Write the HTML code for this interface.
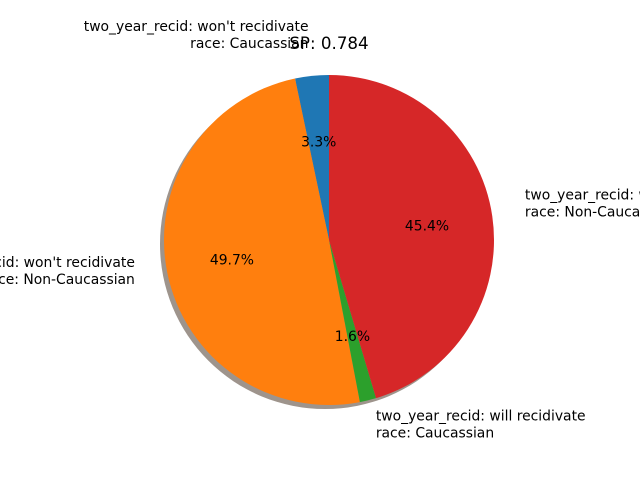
<!DOCTYPE html>
<html><head><meta charset="utf-8"><style>
html,body{margin:0;padding:0;background:#fff;}
svg{display:block;font-family:"DejaVu Sans","Liberation Sans",sans-serif;}
</style></head><body>
<svg id="chart" width="640" height="480" viewBox="0 0 640 480">
<text x="329" y="49" font-size="16.7" text-anchor="middle" fill="#000">SP: 0.784</text>
<g id="shadow"></g><g id="slices"></g><g id="labels"></g>
</svg>
<script>
const categories = ["two_year_recid: won't recidivate\nrace: Caucassian","two_year_recid: won't recidivate\nrace: Non-Caucassian","two_year_recid: will recidivate\nrace: Caucassian","two_year_recid: will recidivate\nrace: Non-Caucassian"];
const values = [3.3, 49.7, 1.6, 45.4];
const colors = ["#1f77b4","#ff7f0e","#2ca02c","#d62728"];
const NS="http://www.w3.org/2000/svg";
const cx=329, cy=240, R=165;
const total=values.reduce((a,b)=>a+b,0);
function pt(a,r){return [cx+r*Math.cos(a*Math.PI/180), cy-r*Math.sin(a*Math.PI/180)];}
const sh=document.createElementNS(NS,"circle");
sh.setAttribute("cx",cx-4);sh.setAttribute("cy",cy+4);sh.setAttribute("r",R);sh.setAttribute("fill","#9e948c");


document.getElementById("shadow").appendChild(sh);
let start=90;
values.forEach((v,i)=>{
  const sweep=v/total*360, end=start+sweep, mid=start+sweep/2;
  const [x1,y1]=pt(start,R),[x2,y2]=pt(end,R);
  const p=document.createElementNS(NS,"path");
  p.setAttribute("d",`M${cx},${cy} L${x1},${y1} A${R},${R} 0 ${sweep>180?1:0} 0 ${x2},${y2} Z`);
  p.setAttribute("fill",colors[i]);
  
  
  document.getElementById("slices").appendChild(p);
  const [px,py]=pt(mid,R*0.6);
  const t=document.createElementNS(NS,"text");
  t.setAttribute("x",px);t.setAttribute("y",py+5);t.setAttribute("font-size","13.9");t.setAttribute("text-anchor","middle");
  t.textContent=v.toFixed(1)+"%";
  
  
  document.getElementById("labels").appendChild(t);
  const [lx,ly]=pt(mid,R*1.2);
  const c=Math.cos(mid*Math.PI/180);
  const anchor=c<-0.01?"end":(c>0.01?"start":"middle");
  const lt=document.createElementNS(NS,"text");
  lt.setAttribute("font-size","13.9");lt.setAttribute("text-anchor",anchor);
  const lines=categories[i].split("\n");
  lines.forEach((ln,k)=>{
    const ts=document.createElementNS(NS,"tspan");
    ts.setAttribute("x",lx);ts.setAttribute("y",ly-17+k*17+5);ts.textContent=ln;
    lt.appendChild(ts);
  });
  
  
  document.getElementById("labels").appendChild(lt);
  start=end;
});
</script>
</body></html>
